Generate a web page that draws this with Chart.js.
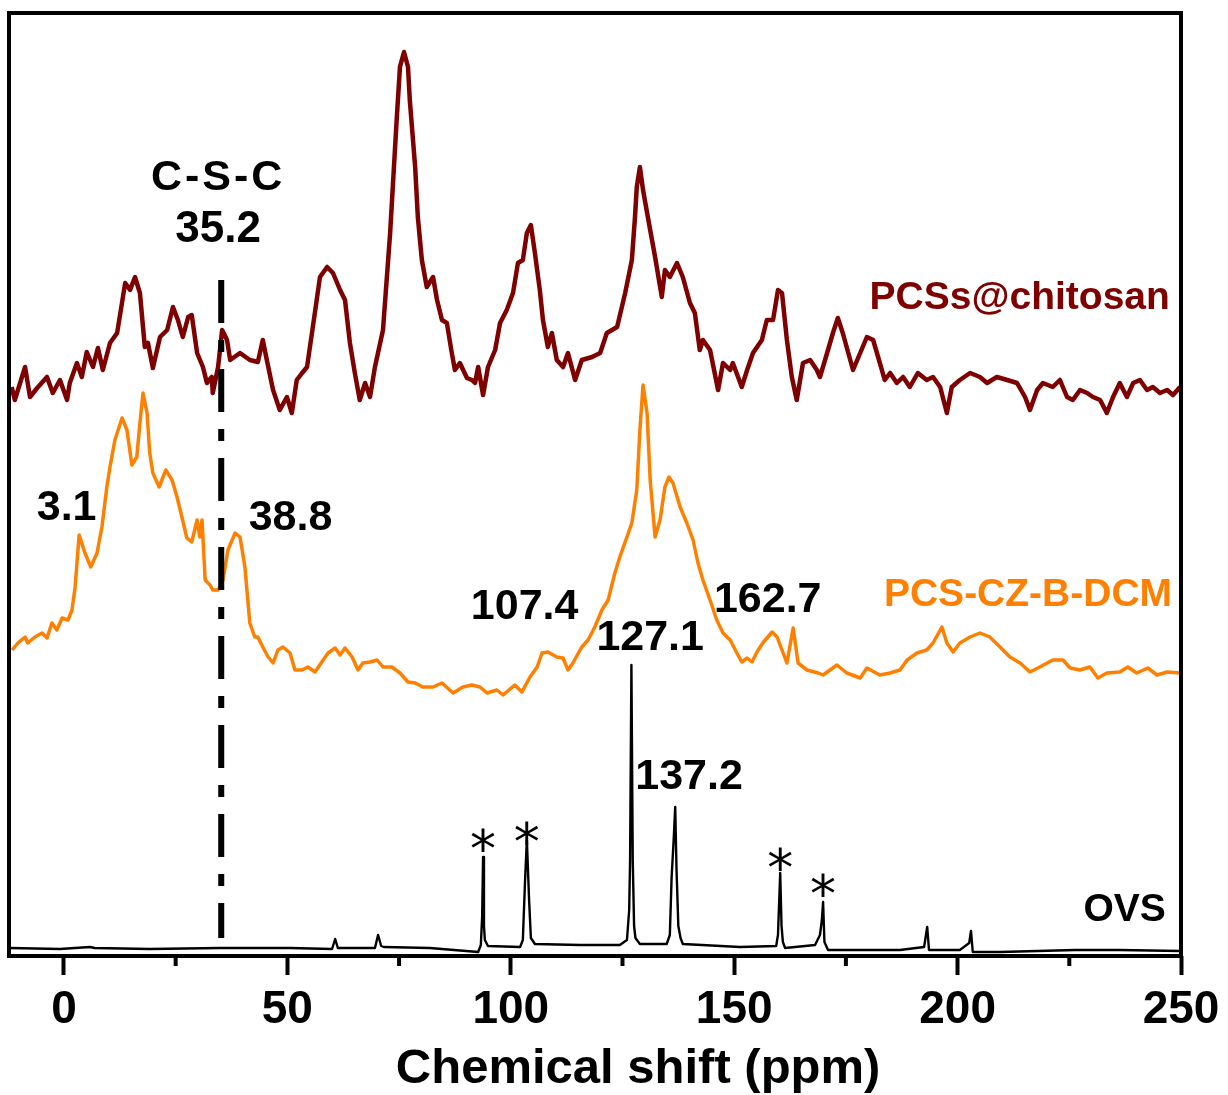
<!DOCTYPE html>
<html>
<head>
<meta charset="utf-8">
<title>Solid-state 13C NMR</title>
<script src="https://cdn.jsdelivr.net/npm/chart.js@4.4.1/dist/chart.umd.min.js"></script>
<style>
  html, body { margin: 0; padding: 0; background: #fff; }
  canvas { display: block; }
</style>
</head>
<body>
<canvas id="nmr" width="1228" height="1095"></canvas>
<script>
// [chemical shift (ppm), stacked intensity (a.u.)]
const pcsChitosan = [
  [-11.7,569],[-11.0,556],[-8.7,589],[-7.6,559],[-6.0,568],[-3.8,579],[-2.5,563],[-0.9,576],[0.7,556],[1.3,573],
  [2.9,593],[4.0,579],[5.1,604],[6.5,589],[7.6,608],[8.7,586],[10.3,613],[11.9,623],[13.7,673],[14.8,666],
  [15.9,679],[17.0,663],[18.1,609],[18.8,613],[19.9,588],[21.5,619],[23.1,626],[24.4,649],[25.5,636],[26.6,619],
  [27.8,639],[28.6,641],[29.8,603],[31.1,589],[32.0,573],[33.1,579],[33.3,563],[34.5,589],[35.4,626],[36.5,616],
  [37.2,596],[39.4,603],[41.6,596],[43.4,594],[44.5,616],[45.4,596],[46.8,566],[48.3,546],[49.9,559],[51.0,543],
  [52.1,576],[53.3,583],[54.4,589],[55.7,629],[57.3,679],[58.9,689],[60.2,683],[61.8,666],[62.9,656],[64.0,613],
  [65.1,583],[66.2,556],[67.4,573],[68.5,559],[69.6,589],[71.4,626],[73.0,723],[74.5,839],[75.2,889],[76.1,904],
  [77.0,889],[77.4,856],[78.6,789],[79.2,739],[80.1,696],[81.2,669],[82.6,679],[83.5,656],[84.6,636],[85.7,633],
  [86.8,603],[87.5,586],[88.6,593],[90.2,578],[91.3,576],[92.0,573],[92.7,589],[93.8,561],[94.9,589],[96.5,606],
  [97.6,633],[99.1,646],[100.5,663],[101.6,693],[102.7,696],[103.6,723],[104.5,731],[105.4,703],[106.5,666],[107.2,636],
  [108.3,609],[109.2,623],[110.3,596],[111.7,589],[112.8,603],[114.4,576],[115.9,596],[118.2,599],[120.0,603],[121.5,623],
  [123.8,629],[125.6,663],[127.1,696],[127.8,739],[128.2,769],[128.9,789],[129.6,766],[131.2,726],[132.3,699],[133.8,659],
  [134.5,686],[135.6,679],[137.2,693],[138.5,679],[140.1,653],[141.2,643],[142.3,606],[143.0,616],[144.6,606],[146.4,566],
  [147.5,593],[149.1,586],[149.7,593],[151.7,569],[152.9,586],[154.2,603],[156.2,616],[157.3,636],[158.7,636],[159.8,666],
  [160.7,663],[161.8,616],[162.9,579],[164.0,556],[165.4,593],[167.0,596],[168.5,586],[169.2,579],[170.8,603],[172.1,623],
  [173.2,638],[174.3,623],[176.6,586],[178.2,603],[179.7,619],[181.1,616],[182.6,593],[183.7,576],[184.9,583],[186.4,573],
  [187.8,579],[189.3,569],[191.1,583],[193.1,576],[194.5,579],[196.1,569],[197.6,543],[198.7,569],[200.5,576],[202.8,583],
  [205.0,579],[206.6,573],[208.8,579],[211.1,576],[213.3,573],[215.1,559],[216.2,546],[217.8,566],[219.1,573],[221.3,569],
  [222.9,576],[224.5,559],[225.8,556],[227.4,566],[229.0,563],[230.3,559],[231.9,556],[233.4,543],[234.8,559],[236.3,573],
  [237.9,559],[239.3,573],[240.8,576],[242.4,566],[243.7,569],[245.3,563],[246.9,566],[248.2,561],[249.8,569]
];

const pcsCzBDcm = [
  [-11.6,306],[-10.3,313],[-8.7,319],[-8.1,313],[-6.5,319],[-4.9,323],[-3.8,318],[-2.7,333],[-1.6,326],[-0.4,338],
  [0.9,336],[1.8,346],[2.5,369],[3.4,421],[4.7,403],[6.0,389],[7.4,403],[8.5,429],[9.6,469],[10.3,489],
  [11.4,516],[13.0,538],[14.1,526],[15.2,491],[16.3,499],[17.0,533],[17.7,563],[18.6,543],[19.2,503],[19.9,483],
  [21.3,469],[22.8,486],[24.2,476],[25.3,459],[26.4,439],[27.5,418],[28.6,414],[29.8,436],[30.4,419],[30.9,436],
  [31.6,376],[32.7,371],[33.3,366],[34.5,366],[35.6,376],[36.7,406],[38.3,423],[39.4,419],[40.5,389],[41.6,333],
  [42.7,319],[43.4,319],[44.5,309],[45.7,299],[46.8,293],[47.9,306],[49.0,309],[50.6,303],[51.7,286],[53.3,286],
  [54.6,289],[56.2,284],[57.7,294],[59.1,303],[60.7,308],[61.8,301],[62.9,308],[64.5,299],[65.8,286],[66.9,293],
  [68.5,294],[70.1,296],[71.4,289],[73.4,289],[75.2,283],[77.0,274],[78.6,273],[80.3,269],[82.6,269],[84.6,273],
  [87.1,263],[89.3,269],[91.3,271],[93.1,269],[94.7,263],[96.9,266],[98.3,261],[100.9,271],[102.5,264],[104.3,279],
  [105.9,289],[107.0,303],[108.3,304],[110.3,299],[111.7,298],[112.8,286],[113.9,293],[115.9,309],[117.3,316],[118.8,329],
  [120.4,346],[121.8,356],[123.3,383],[124.4,399],[126.0,419],[127.1,433],[128.2,466],[128.9,526],[129.6,571],[130.5,543],
  [131.2,476],[132.3,419],[133.4,436],[134.5,469],[135.4,479],[136.3,473],[137.9,449],[139.4,433],[140.8,416],[141.9,393],
  [143.0,376],[144.6,356],[146.1,336],[147.5,323],[149.1,316],[150.6,303],[151.7,294],[152.9,298],[154.0,294],[155.1,304],
  [156.4,313],[158.5,324],[159.6,319],[161.8,293],[163.2,328],[164.3,293],[166.3,286],[168.8,283],[169.9,281],[173.0,291],
  [175.2,283],[178.2,278],[179.7,288],[182.6,281],[184.9,283],[187.1,286],[188.7,296],[190.9,303],[193.1,306],[194.5,313],
  [196.5,329],[197.6,313],[199.0,304],[200.5,313],[202.8,319],[205.0,323],[207.2,319],[209.5,309],[211.7,299],[214.0,293],
  [216.2,284],[218.4,289],[221.3,296],[223.6,296],[225.2,288],[227.4,286],[229.6,289],[231.4,278],[233.4,283],[236.3,284],
  [238.1,289],[240.1,283],[242.6,288],[244.6,281],[246.9,284],[249.8,283]
];

const ovs = [
  [-12.1,8],[-0.9,7],[5.8,9],[6.9,8],[19.2,7],[34.9,8],[50.6,8],[60.0,7],[60.7,17],[61.3,8],
  [69.6,8],[70.3,21],[71.0,10],[71.6,9],[81.9,8],[92.7,4],[93.3,11],[93.6,40],[93.8,99],[94.0,30],
  [94.2,16],[94.9,10],[102.1,9],[102.7,16],[103.2,76],[103.6,116],[104.1,56],[104.5,18],[105.4,12],[115.5,11],
  [124.4,11],[126.0,16],[126.5,46],[126.7,95],[127.0,291],[127.3,95],[127.6,30],[127.9,18],[128.9,12],[134.9,12],
  [135.6,21],[136.0,79],[136.5,120],[136.8,149],[137.1,86],[137.5,30],[138.0,18],[138.5,12],[151.3,9],[159.4,10],
  [159.8,21],[160.3,83],[160.6,30],[160.9,14],[161.4,8],[168.1,11],[169.2,21],[169.6,35],[169.9,54],[170.2,14],
  [171.0,6],[187.1,6],[192.5,9],[193.2,29],[193.6,6],[200.5,6],[202.6,13],[203.0,25],[203.4,4],[209.5,4],
  [226.3,6],[236.3,6],[249.8,5]
];

// C-S-C marker line
const cscShift = 35.2;
const cscSpan = [676, 18];

const minorTicks = [25, 75, 125, 175, 225];

const FONT = "'Liberation Sans', Arial, Helvetica, sans-serif";

// text notes, anchored in data coordinates
const notes = [
  { text: 'C-S-C', x: 34.5, y: 778, size: 43, spacing: 3 },
  { text: '35.2', x: 34.5, y: 726, size: 44 },
  { text: '3.1', x: 0.6, y: 448, size: 43 },
  { text: '38.8', x: 50.7, y: 438, size: 43 },
  { text: '107.4', x: 103.1, y: 349, size: 43 },
  { text: '127.1', x: 131.2, y: 318, size: 43 },
  { text: '162.7', x: 157.5, y: 356, size: 43 },
  { text: '137.2', x: 139.9, y: 179, size: 43 },
  { text: 'PCSs@chitosan', x: 247.5, y: 658, size: 39, color: '#7f0000', align: 'right' },
  { text: 'PCS-CZ-B-DCM', x: 248.0, y: 361, size: 39, color: '#ff8000', align: 'right' },
  { text: 'OVS', x: 246.6, y: 46, size: 39, align: 'right' }
];
// spinning side bands
const sideBands = [[93.8, 113], [103.6, 120], [160.3, 94], [169.9, 68]];

const toXY = arr => arr.map(p => ({x: p[0], y: p[1]}));

function line(data, color, width, extra) {
    return Object.assign({
        data: toXY(data),
        showLine: true,
        borderColor: color,
        borderWidth: width,
        pointRadius: 0,
        tension: 0,
        borderJoinStyle: 'round'
    }, extra || {})
}

const frameAndNotes = {
    id: 'frameAndNotes',
    afterDatasetsDraw(chart) {
        const {ctx, chartArea: a, scales: {x, y}} = chart;
        ctx.save();
        ctx.strokeStyle = '#000';
        ctx.lineWidth = 4;
        ctx.strokeRect(a.left, a.top, a.right - a.left, a.bottom - a.top);
        minorTicks.forEach(v => {
            const px = x.getPixelForValue(v);
            ctx.beginPath();
            ctx.moveTo(px, a.bottom);
            ctx.lineTo(px, a.bottom + 10);
            ctx.stroke();
        });

        ctx.textBaseline = 'middle';
        notes.forEach(n => {
            ctx.font = `bold ${n.size}px ${FONT}`;
            ctx.letterSpacing = (n.spacing || 0) + 'px';
            ctx.fillStyle = n.color || '#000';
            ctx.textAlign = n.align || 'center';
            ctx.fillText(n.text, x.getPixelForValue(n.x), y.getPixelForValue(n.y));
        });
        ctx.letterSpacing = '0px';

        ctx.font = `52px 'DejaVu Sans', sans-serif`;
        ctx.fillStyle = '#000';
        ctx.textAlign = 'center';
        sideBands.forEach(s => {
            ctx.fillText('*', x.getPixelForValue(s[0]), y.getPixelForValue(s[1]) + 10);
        });

        // axis title
        ctx.font = `bold 49px ${FONT}`;
        ctx.textBaseline = 'alphabetic';
        ctx.fillText('Chemical shift (ppm)', x.getPixelForValue(128.5), 1083);
        ctx.restore();
    }
};

new Chart(document.getElementById('nmr'), {
    type: 'scatter',
    data: {
        datasets: [
            line([[cscShift, cscSpan[0]], [cscShift, cscSpan[1]]], '#000', 6, {borderDash: [43, 17, 12, 17]}),
            line(pcsChitosan, '#7f0000', 4.5),
            line(pcsCzBDcm, '#ff8000', 3.5),
            line(ovs, '#000', 2.4)
        ]
    },
    options: {
        responsive: false,
        animation: false,
        layout: {padding: {left: 9, right: 47, top: 13, bottom: 48}},
        plugins: {legend: {display: false}, tooltip: {enabled: false}},
        scales: {
            x: {
                type: 'linear',
                min: -12.3,
                max: 250,
                border: {display: false},
                grid: {
                    display: true,
                    drawOnChartArea: false,
                    drawTicks: true,
                    tickLength: 19,
                    tickWidth: 4,
                    tickColor: '#000'
                },
                ticks: {
                    stepSize: 50,
                    includeBounds: false,
                    padding: 8,
                    color: '#000',
                    maxRotation: 0,
                    font: {family: FONT, size: 46, weight: 'bold'}
                },
                afterFit(scale) {
                    scale.height = 91;
                    scale.paddingLeft = 0;
                    scale.paddingRight = 0;
                }
            },
            y: {
                display: false,
                min: 0,
                max: 943
            }
        }
    },
    plugins: [frameAndNotes]
});
</script>
</body>
</html>
